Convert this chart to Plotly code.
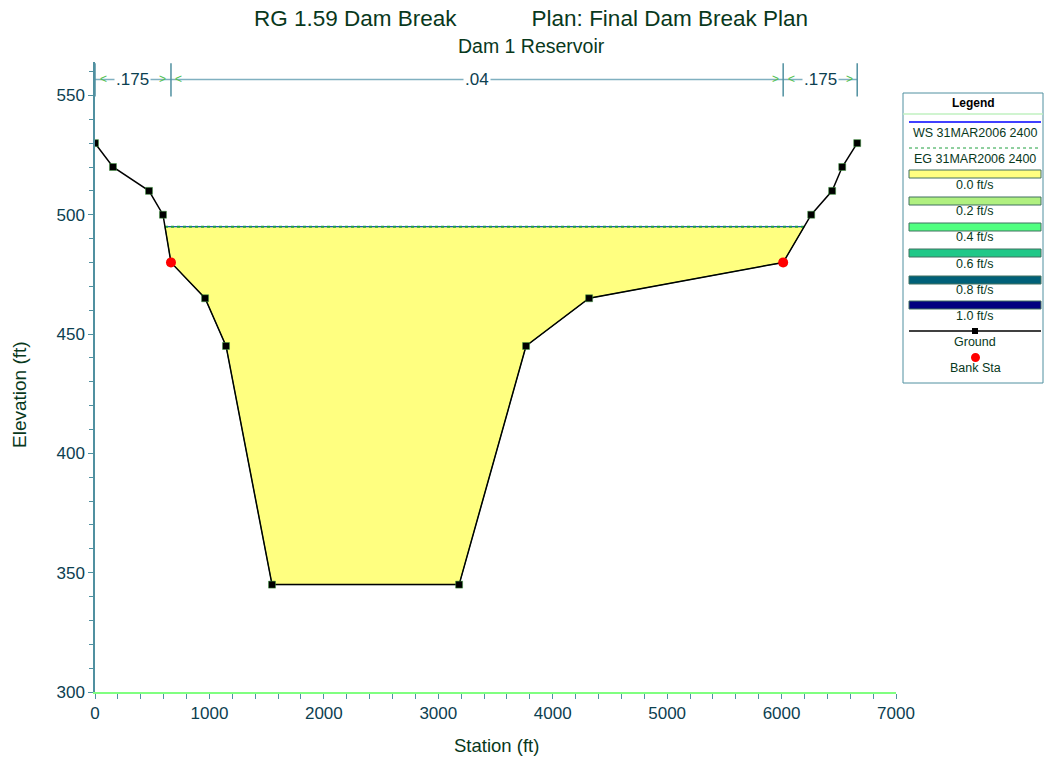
import numpy as np
import plotly.graph_objects as go

# ground profile (station ft, elevation ft)
ground_sta = [0, 157, 472, 594, 664, 962, 1145, 1547, 3182, 3767, 4318, 6014, 6259, 6442, 6530, 6661]
ground_elev = [530, 520, 510, 500, 480, 465, 445, 345, 345, 445, 465, 480, 500, 510, 520, 530]

bank_sta = [664, 6014]
bank_elev = [480, 480]

ws_elev = 495.0
eg_elev = 495.0

n_labels = [".175", ".04", ".175"]
n_breaks = [0, 664, 6014, 6661]

legend_items = ["WS 31MAR2006 2400", "EG 31MAR2006 2400", "0.0 ft/s", "0.2 ft/s",
                "0.4 ft/s", "0.6 ft/s", "0.8 ft/s", "1.0 ft/s", "Ground", "Bank Sta"]
vel_colors = ["#ffff80", "#b0f080", "#50ff80", "#20c888", "#006078", "#000080"]

TXT = "#08381c"
TICK = "#0c4050"
FONT = "Liberation Sans, Arial, sans-serif"

# water edges where the surface meets the ground
gs = np.array(ground_sta, float)
ge = np.array(ground_elev, float)
i_min = int(np.argmin(ge))
left_x = np.interp(ws_elev, ge[:i_min + 1][::-1], gs[:i_min + 1][::-1])
right_x = np.interp(ws_elev, ge[i_min:], gs[i_min:])
inside = (gs > left_x) & (gs < right_x)
poly_x = [left_x] + list(gs[inside]) + [right_x, left_x]
poly_y = [ws_elev] + list(ge[inside]) + [ws_elev, ws_elev]

fig = go.Figure()
fig.add_trace(go.Scatter(x=poly_x, y=poly_y, fill="toself", fillcolor="#ffff80",
                         mode="lines", line=dict(color="#2e7d50", width=1), hoverinfo="skip"))
fig.add_trace(go.Scatter(x=[left_x, right_x], y=[ws_elev, ws_elev], mode="lines",
                         line=dict(color="#1050c0", width=1)))
fig.add_trace(go.Scatter(x=[left_x, right_x], y=[eg_elev, eg_elev], mode="lines",
                         line=dict(color="#20a040", width=2, dash="dot")))
fig.add_trace(go.Scatter(x=ground_sta, y=ground_elev, mode="lines+markers",
                         line=dict(color="#000000", width=1.5),
                         marker=dict(symbol="square", size=7, color="#000000",
                                     line=dict(color="#40a040", width=0.5))))
fig.add_trace(go.Scatter(x=bank_sta, y=bank_elev, mode="markers",
                         marker=dict(symbol="circle", size=10, color="#ff0000")))

# Manning's n bar along the top
n_y = 556.7
fig.add_shape(type="line", x0=n_breaks[0], x1=n_breaks[-1], y0=n_y, y1=n_y,
              line=dict(color="#80b0c0", width=1.5))
for b in n_breaks:
    fig.add_shape(type="line", x0=b, x1=b, y0=549.5, y1=563.5, line=dict(color="#5090a0", width=1.5))
for i, lab in enumerate(n_labels):
    a, b = n_breaks[i], n_breaks[i + 1]
    fig.add_annotation(x=(a + b) / 2, y=n_y, text=lab, showarrow=False, bgcolor="white",
                       xanchor="center", yanchor="middle",
                       font=dict(size=17, color=TICK, family=FONT))
    fig.add_annotation(x=a, y=n_y, text="<", showarrow=False, xshift=8, xanchor="center", yanchor="middle",
                       font=dict(size=12, color="#50c050", family=FONT))
    fig.add_annotation(x=b, y=n_y, text=">", showarrow=False, xshift=-8, xanchor="center", yanchor="middle",
                       font=dict(size=12, color="#50c050", family=FONT))


# pixel -> paper helpers (plot area spans x 95..896, y 62..692)
def px(x):
    return (x - 95) / 801


def py(y):
    return (692 - y) / 630


def note(x, y, text, size, color=TXT, angle=0):
    fig.add_annotation(x=px(x), y=py(y), xref="paper", yref="paper", text=text, showarrow=False,
                       xanchor="center", yanchor="middle", textangle=angle,
                       font=dict(size=size, color=color, family=FONT))


# titles
note(531, 18, "RG 1.59 Dam Break" + "&nbsp;" * 12 + "Plan: Final Dam Break Plan", 22.5)
note(531, 46, "Dam 1 Reservoir", 19.5)
note(496, 745, "Station (ft)", 18.5)
note(19, 395, "Elevation (ft)", 19, angle=-90)

# legend box
fig.add_shape(type="rect", xref="paper", yref="paper", x0=px(903), x1=px(1043), y0=py(93), y1=py(383),
              line=dict(color="#5090a0", width=1), fillcolor="white")
note(973, 103, "<b>Legend</b>", 12, color="#000000")
fig.add_shape(type="line", xref="paper", yref="paper", x0=px(903), x1=px(1043), y0=py(114), y1=py(114),
              line=dict(color="#c0f0c0", width=1.5))
x_a, x_b = px(909), px(1041)
fig.add_shape(type="line", xref="paper", yref="paper", x0=x_a, x1=x_b, y0=py(122), y1=py(122),
              line=dict(color="#0000ff", width=1.5))
fig.add_shape(type="line", xref="paper", yref="paper", x0=x_a, x1=x_b, y0=py(148), y1=py(148),
              line=dict(color="#20a040", width=1, dash="dot"))
text_y = [133, 159, 185, 211, 237, 264, 290, 316, 342, 368]
rect_y = [170, 197, 223, 249, 276, 301]
for ry, c in zip(rect_y, vel_colors):
    fig.add_shape(type="rect", xref="paper", yref="paper", x0=x_a, x1=x_b, y0=py(ry + 8), y1=py(ry),
                  line=dict(color="#407060", width=1), fillcolor=c)
fig.add_shape(type="line", xref="paper", yref="paper", x0=x_a, x1=x_b, y0=py(331), y1=py(331),
              line=dict(color="#000000", width=1.5))
fig.add_shape(type="rect", xref="paper", yref="paper", x0=px(972), x1=px(978), y0=py(334), y1=py(328),
              line=dict(color="#000000", width=0), fillcolor="#000000")
fig.add_shape(type="circle", xref="paper", yref="paper", x0=px(971), x1=px(980), y0=py(362), y1=py(353),
              line=dict(color="#ff0000", width=0), fillcolor="#ff0000")
for ty, t in zip(text_y, legend_items):
    note(975, ty, t, 12.5)

fig.update_layout(
    width=1045, height=761,
    margin=dict(l=95, r=149, t=62, b=69),
    plot_bgcolor="white", paper_bgcolor="white",
    showlegend=False,
    font=dict(family=FONT, color=TXT),
    xaxis=dict(range=[0, 7000], dtick=1000, showgrid=False, zeroline=False,
               showline=True, linecolor="#80ff80", linewidth=2,
               ticks="outside", ticklen=5, tickcolor="#5090a0",
               minor=dict(dtick=200, ticks="outside", ticklen=5, tickcolor="#5090a0"),
               tickfont=dict(size=17, color=TICK)),
    yaxis=dict(range=[300, 564], tick0=300, dtick=50, showgrid=False, zeroline=False,
               showline=True, linecolor="#5090a0", linewidth=1.5,
               ticks="outside", ticklen=5, tickcolor="#5090a0",
               minor=dict(dtick=10, ticks="outside", ticklen=4, tickcolor="#5090a0"),
               tickfont=dict(size=17, color=TICK)),
)

fig.write_html("out.html", config={"displayModeBar": False},
               post_script="document.body.style.margin='0px';")
